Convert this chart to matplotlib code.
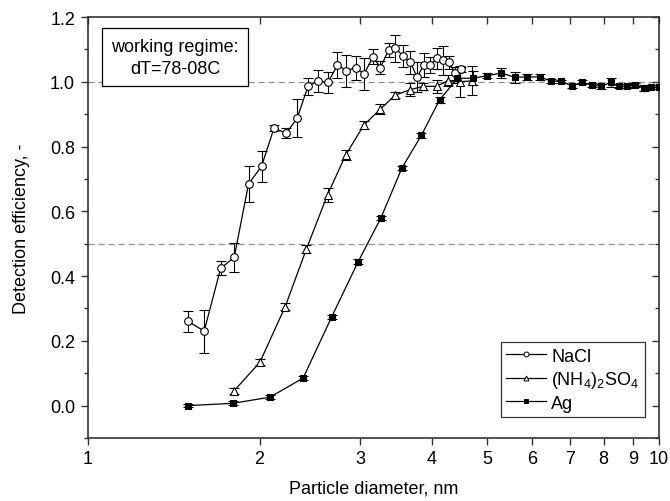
import numpy as np
import matplotlib.pyplot as plt
from matplotlib.lines import Line2D
from matplotlib.ticker import FixedLocator, FixedFormatter, MultipleLocator

plt.rcParams['font.family'] = ['Liberation Sans', 'DejaVu Sans']
plt.rcParams['mathtext.fontset'] = 'custom'
plt.rcParams['mathtext.rm'] = 'Liberation Sans'
plt.rcParams['mathtext.default'] = 'rm'

# NaCl
nacl_d = [1.50, 1.60, 1.71, 1.806, 1.913, 2.016, 2.12, 2.227, 2.327, 2.432,
          2.532, 2.636, 2.738, 2.839, 2.944, 3.047, 3.16, 3.255, 3.363, 3.458,
          3.565, 3.673, 3.772, 3.88, 3.98, 4.08, 4.18, 4.29, 4.40, 4.50]
nacl_eff = [0.26, 0.23, 0.424, 0.458, 0.684, 0.739, 0.857, 0.841, 0.888, 0.986,
            1.003, 0.998, 1.052, 1.034, 1.044, 1.024, 1.077, 1.044, 1.098, 1.104,
            1.080, 1.060, 1.015, 1.052, 1.052, 1.072, 1.067, 1.060, 1.027, 1.039]
nacl_err = [0.033, 0.066, 0.022, 0.045, 0.056, 0.048, 0.010, 0.015, 0.060, 0.027,
            0.034, 0.032, 0.040, 0.050, 0.037, 0.050, 0.023, 0.020, 0.022, 0.042,
            0.035, 0.035, 0.045, 0.036, 0.026, 0.031, 0.045, 0.020, 0.020, 0.008]

# (NH4)2SO4
as_d = [1.803, 2.003, 2.218, 2.416, 2.63, 2.83, 3.044, 3.255, 3.458, 3.66,
        3.865, 4.08, 4.27, 4.48, 4.70]
as_eff = [0.045, 0.134, 0.306, 0.484, 0.651, 0.774, 0.866, 0.916, 0.959, 0.975,
          0.986, 0.986, 1.003, 1.0, 1.003]
as_err = [0.008, 0.010, 0.012, 0.012, 0.021, 0.014, 0.012, 0.015, 0.010, 0.020,
          0.010, 0.021, 0.017, 0.048, 0.045]

# Ag
ag_d = [1.50, 1.794, 2.085, 2.384, 2.673, 2.975, 3.26, 3.55, 3.84, 4.13,
        4.44, 4.73, 5.01, 5.30, 5.59, 5.88, 6.18, 6.46, 6.75, 7.04,
        7.34, 7.63, 7.92, 8.23, 8.50, 8.80, 9.09, 9.40, 9.69, 9.98]
ag_eff = [0.0, 0.007, 0.026, 0.085, 0.273, 0.444, 0.579, 0.734, 0.835, 0.944,
          1.011, 1.011, 1.019, 1.027, 1.014, 1.015, 1.015, 1.003, 1.001, 0.988,
          0.998, 0.990, 0.986, 0.998, 0.986, 0.986, 0.990, 0.981, 0.983, 0.983]
ag_err = [0.005, 0.006, 0.006, 0.005, 0.006, 0.008, 0.006, 0.007, 0.008, 0.008,
          0.015, 0.022, 0.008, 0.015, 0.017, 0.008, 0.008, 0.006, 0.006, 0.006,
          0.006, 0.006, 0.007, 0.015, 0.006, 0.006, 0.006, 0.008, 0.006, 0.006]

xticks = [1, 2, 3, 4, 5, 6, 7, 8, 9, 10]
FS = 13

fig = plt.figure(figsize=(6.70, 5.02), dpi=100)
ax = fig.add_axes([0.1306, 0.1255, 0.853, 0.8386])

ax.axhline(1.0, color='#909090', lw=0.9, ls=(0, (5, 3)), zorder=1)
ax.axhline(0.5, color='#909090', lw=0.9, ls=(0, (5, 3)), zorder=1)

eb_kw = dict(color='black', lw=0.9, elinewidth=0.8, capsize=3.5, capthick=0.8, zorder=3)
ax.errorbar(nacl_d, nacl_eff, yerr=nacl_err, marker='o', ms=5.5, mfc='white',
            mec='black', mew=0.8, **eb_kw)
ax.errorbar(as_d, as_eff, yerr=as_err, marker='^', ms=5.5, mfc='white',
            mec='black', mew=0.8, **eb_kw)
ax.errorbar(ag_d, ag_eff, yerr=ag_err, marker='s', ms=4.5, mfc='black',
            mec='black', mew=0.8, **eb_kw)

ax.set_xscale('log')
ax.set_xlim(1, 10)
ax.set_ylim(-0.1, 1.2)
ax.xaxis.set_major_locator(FixedLocator(xticks))
ax.xaxis.set_major_formatter(FixedFormatter([str(t) for t in xticks]))
ax.xaxis.set_minor_locator(FixedLocator([]))
ax.yaxis.set_major_locator(MultipleLocator(0.2))
ax.yaxis.set_minor_locator(MultipleLocator(0.1))
ax.yaxis.set_major_formatter(plt.FuncFormatter(lambda v, p: f'{v:.1f}'))

ax.tick_params(axis='both', which='both', direction='out', labelsize=FS,
               width=1.0, color='#333333', pad=4)
ax.tick_params(which='major', length=5)
ax.tick_params(which='minor', length=3)
ax.tick_params(top=True, right=True, which='both')

# ticks on the top and right edges point into the plot
for t in ax.xaxis.get_major_ticks():
    t.tick2line.set_marker(3)
for t in ax.yaxis.get_major_ticks() + ax.yaxis.get_minor_ticks():
    t.tick2line.set_marker(0)

for s in ax.spines.values():
    s.set_linewidth(1.2)
    s.set_color('#333333')

ax.set_xlabel('Particle diameter, nm', fontsize=FS, labelpad=9)
ax.set_ylabel('Detection efficiency, -', fontsize=FS, labelpad=14)

ax.text(0.153, 0.904, 'working regime:\ndT=78-08C', transform=ax.transAxes,
        ha='center', va='center', fontsize=FS, linespacing=1.45,
        bbox=dict(boxstyle='square,pad=0.5', fc='white', ec='black', lw=0.9))

handles = [
    Line2D([], [], color='black', lw=0.9, marker='o', ms=3.5, mfc='white', mec='black', mew=0.7),
    Line2D([], [], color='black', lw=0.9, marker='^', ms=3.5, mfc='white', mec='black', mew=0.7),
    Line2D([], [], color='black', lw=0.9, marker='s', ms=3.5, mfc='black', mec='black', mew=0.7),
]
labels = ['NaCl', r'(NH$_4$)$_2$SO$_4$', 'Ag']
leg = ax.legend(handles, labels, loc='lower right', bbox_to_anchor=(0.975, 0.05),
                fontsize=FS, frameon=True, fancybox=False, edgecolor='black',
                handlelength=2.2, handletextpad=0.3, borderpad=0.3,
                labelspacing=0.25, borderaxespad=0)
leg.get_frame().set_linewidth(0.9)

fig.savefig('out.png', dpi=100)
